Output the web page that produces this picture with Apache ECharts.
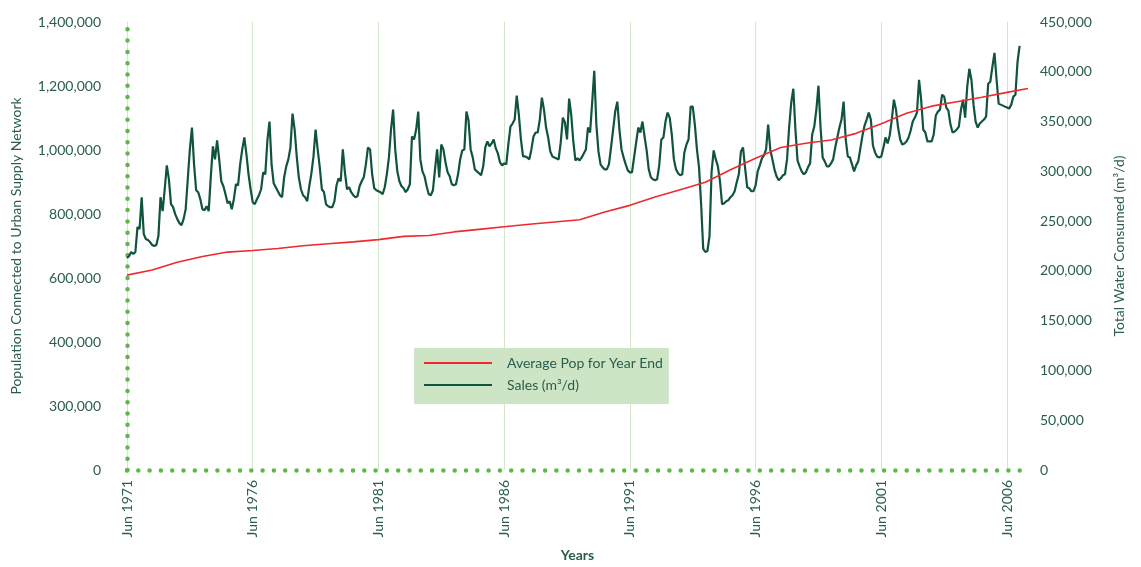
<!DOCTYPE html>
<html>
<head>
<meta charset="utf-8">
<script src="https://cdn.jsdelivr.net/npm/echarts@6/dist/echarts.min.js"></script>
<style>
  html, body { margin: 0; padding: 0; background: #fff; }
  #chart { width: 1141px; height: 567px; }
</style>
</head>
<body>
<div id="chart"></div>
<script>
// monthly sales (m3/d), Jun 1971 .. Dec 2006, one row = Jun..May
const sales = [
  213000, 215000, 219000, 217000, 219000, 244000, 242000, 274000, 237000, 232000, 231000, 229000,
  226000, 225000, 226000, 235000, 274000, 260000, 282000, 306000, 292000, 267000, 264000, 257000,
  252000, 248000, 246000, 252000, 262000, 292000, 322000, 344000, 307000, 281000, 279000, 272000,
  262000, 261000, 265000, 260000, 295000, 325000, 312000, 331000, 312000, 290000, 285000, 277000,
  268000, 270000, 262000, 272000, 287000, 286000, 307000, 322000, 334000, 317000, 297000, 282000,
  269000, 267000, 272000, 276000, 282000, 299000, 297000, 331000, 350000, 307000, 288000, 284000,
  280000, 276000, 274000, 294000, 305000, 312000, 324000, 358000, 342000, 315000, 294000, 282000,
  276000, 274000, 270000, 285000, 298000, 315000, 342000, 322000, 304000, 282000, 279000, 267000,
  265000, 264000, 264000, 270000, 286000, 293000, 290000, 322000, 299000, 282000, 284000, 279000,
  276000, 274000, 275000, 285000, 290000, 294000, 307000, 324000, 322000, 297000, 283000, 281000,
  280000, 279000, 277000, 284000, 297000, 314000, 342000, 362000, 322000, 300000, 290000, 285000,
  283000, 279000, 282000, 287000, 335000, 332000, 342000, 360000, 312000, 300000, 295000, 285000,
  277000, 276000, 281000, 302000, 322000, 294000, 327000, 322000, 309000, 299000, 295000, 287000,
  286000, 287000, 297000, 312000, 321000, 322000, 360000, 351000, 322000, 314000, 302000, 300000,
  298000, 296000, 305000, 324000, 330000, 325000, 328000, 332000, 323000, 318000, 309000, 306000,
  308000, 307000, 327000, 345000, 348000, 352000, 376000, 357000, 332000, 315000, 315000, 314000,
  312000, 322000, 335000, 339000, 339000, 352000, 374000, 362000, 344000, 334000, 320000, 315000,
  314000, 313000, 312000, 329000, 354000, 349000, 332000, 373000, 357000, 330000, 311000, 313000,
  311000, 314000, 318000, 322000, 344000, 339000, 369000, 401000, 347000, 320000, 307000, 304000,
  302000, 302000, 307000, 324000, 342000, 360000, 370000, 342000, 322000, 314000, 307000, 301000,
  299000, 299000, 314000, 329000, 344000, 339000, 350000, 335000, 321000, 302000, 294000, 292000,
  291000, 292000, 306000, 332000, 334000, 350000, 359000, 354000, 337000, 312000, 302000, 298000,
  296000, 297000, 319000, 327000, 332000, 365000, 365000, 347000, 322000, 304000, 267000, 222000,
  219000, 220000, 235000, 300000, 321000, 312000, 305000, 290000, 267000, 268000, 270000, 271000,
  274000, 276000, 280000, 289000, 297000, 320000, 324000, 303000, 284000, 283000, 280000, 280000,
  286000, 300000, 306000, 313000, 316000, 322000, 347000, 322000, 312000, 302000, 295000, 291000,
  293000, 296000, 297000, 312000, 344000, 369000, 383000, 342000, 311000, 305000, 300000, 297000,
  299000, 304000, 308000, 337000, 345000, 362000, 386000, 344000, 314000, 310000, 305000, 305000,
  308000, 312000, 324000, 334000, 344000, 352000, 370000, 332000, 315000, 314000, 307000, 300000,
  306000, 310000, 323000, 336000, 346000, 352000, 359000, 352000, 326000, 319000, 315000, 314000,
  315000, 324000, 334000, 328000, 336000, 352000, 372000, 362000, 344000, 332000, 327000, 328000,
  330000, 334000, 341000, 350000, 354000, 359000, 392000, 372000, 342000, 339000, 330000, 330000,
  330000, 337000, 356000, 360000, 362000, 377000, 375000, 364000, 361000, 347000, 339000, 340000,
  342000, 345000, 362000, 372000, 354000, 385000, 403000, 392000, 367000, 350000, 344000, 348000,
  350000, 352000, 355000, 388000, 390000, 405000, 419000, 392000, 368000, 367000, 366000, 365000,
  364000, 363000, 367000, 375000, 377000, 410000, 426000
]

// average population, read at June of each year
const popYears = [
  1971, 1972, 1973, 1974, 1975, 1976, 1977, 1978, 1979, 1980, 1981, 1982,
  1983, 1984, 1985, 1986, 1987, 1988, 1989, 1990, 1991, 1992, 1993, 1994,
  1995, 1996, 1997, 1998, 1999, 2000, 2001, 2002, 2003, 2004, 2005, 2006
]
const popValues = [
  609000, 625000, 649000, 667000, 681000, 686000, 692000, 701000, 707000, 713000, 720000, 730000,
  733000, 744000, 752000, 760000, 768000, 775000, 782000, 806000, 827000, 853000, 876000, 899000,
  938000, 974000, 1008000, 1021000, 1031000, 1052000, 1082000, 1115000, 1137000, 1151000, 1165000, 1180000
]
const popLast = ['Apr 2007', 1192000] // line runs on past the last sales month

const popTickLabels = ['0', '300,000', '400,000', '600,000', '800,000', '1,000,000', '1,200,000', '1,400,000']

const monthNames = ['Jan', 'Feb', 'Mar', 'Apr', 'May', 'Jun', 'Jul', 'Aug', 'Sep', 'Oct', 'Nov', 'Dec']
const categories = []
let yr = 1971
let mo = 5
while (categories.length < 431) {
  categories.push(monthNames[mo] + ' ' + yr)
  mo++
  if (mo === 12) { mo = 0; yr++ }
}

const popData = popYears.map((y, i) => ['Jun ' + y, popValues[i]]).concat([popLast])

const textColor = '#2a5d4e'
const dotGreen = '#5cb947'
const fontFamily = 'Lato'
const everyFiveYears = (i) => i % 60 === 0

const chart = echarts.init(document.getElementById('chart'))
chart.setOption({
  animation: false,
  textStyle: { fontFamily: fontFamily },
  grid: { left: 127, right: 113, top: 22, bottom: 94 },
  legend: {
    data: ['Average Pop for Year End', 'Sales (m³/d)'],
    orient: 'vertical',
    left: 414,
    top: 348,
    backgroundColor: '#cde5c5',
    padding: [8, 6, 12, 9],
    itemWidth: 68,
    itemHeight: 14,
    itemGap: 8,
    itemStyle: { opacity: 0 },
    textStyle: { color: textColor, fontSize: 14, fontFamily: fontFamily, padding: [0, 0, 0, 10] }
  },
  xAxis: {
    type: 'category',
    data: categories,
    boundaryGap: false,
    name: 'Years',
    nameLocation: 'middle',
    nameGap: 78,
    nameTextStyle: { color: textColor, fontSize: 14, fontWeight: 'bold' },
    axisLine: { lineStyle: { color: dotGreen, width: 4.5, type: [0, 11.3], cap: 'round' } },
    axisTick: { show: false },
    axisLabel: { interval: everyFiveYears, rotate: 90, color: textColor, fontSize: 14, margin: 10 },
    splitLine: { show: true, interval: everyFiveYears, lineStyle: { color: '#d3e8cb', width: 1 } }
  },
  yAxis: [
    {
      type: 'value',
      position: 'left',
      min: 0,
      max: 1400000,
      interval: 200000,
      name: 'Population Connected to Urban Supply Network',
      nameLocation: 'middle',
      nameGap: 104,
      nameTextStyle: { color: textColor, fontSize: 14 },
      axisLine: { show: true, lineStyle: { color: dotGreen, width: 4.5, type: [0, 11.3], cap: 'round' } },
      axisTick: { show: false },
      splitLine: { show: false },
      axisLabel: {
        color: textColor,
        fontSize: 14,
        margin: 26,
        padding: [0, 0, 7, 0],
        formatter: (v) => popTickLabels[Math.round(v / 200000)]
      }
    },
    {
      type: 'value',
      position: 'right',
      min: 0,
      max: 450000,
      interval: 50000,
      name: 'Total Water Consumed (m³/d)',
      nameLocation: 'middle',
      nameGap: 84,
      nameTextStyle: { color: textColor, fontSize: 14 },
      axisLine: { show: false },
      axisTick: { show: false },
      splitLine: { show: false },
      axisLabel: {
        color: textColor,
        fontSize: 14,
        margin: 12,
        formatter: (v) => v.toLocaleString('en-US')
      }
    }
  ],
  series: [
    {
      name: 'Sales (m³/d)',
      type: 'line',
      yAxisIndex: 1,
      data: sales,
      symbol: 'none',
      lineStyle: { color: '#10533f', width: 2.2 },
      itemStyle: { color: '#10533f' }
    },
    {
      name: 'Average Pop for Year End',
      type: 'line',
      yAxisIndex: 0,
      data: popData,
      symbol: 'none',
      lineStyle: { color: '#ee2a2e', width: 1.6 },
      itemStyle: { color: '#ee2a2e' }
    }
  ]
})
</script>
</body>
</html>
